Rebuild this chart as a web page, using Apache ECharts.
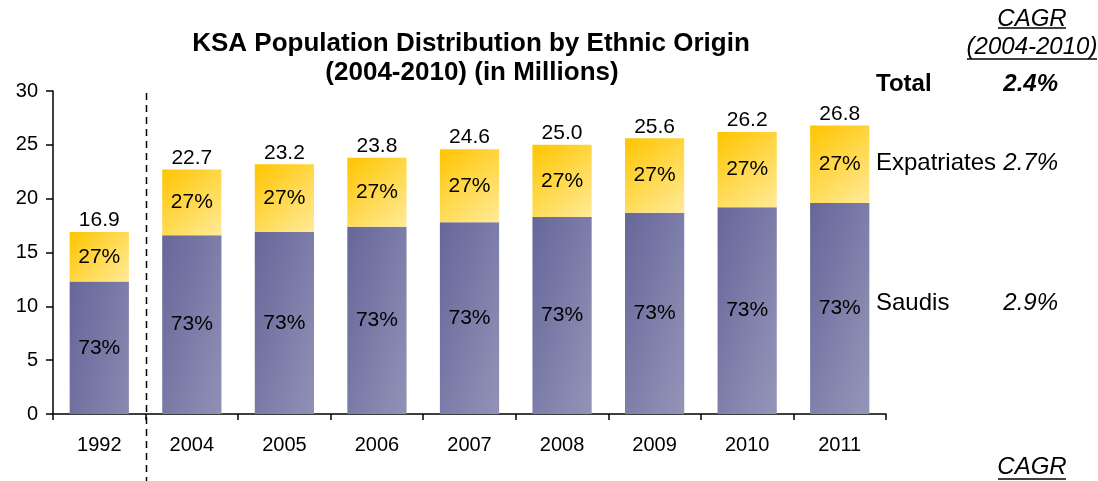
<!DOCTYPE html>
<html>
<head>
<meta charset="utf-8">
<script src="https://cdn.jsdelivr.net/npm/echarts@6/dist/echarts.min.js"></script>
<style>
  html, body { margin: 0; padding: 0; background: #fff; }
  #chart { width: 1098px; height: 481px; }
</style>
</head>
<body>
<div id="chart"></div>
<script>
// Population of KSA by origin, millions
const years = ['1992', '2004', '2005', '2006', '2007', '2008', '2009', '2010', '2011'];
const totals = [16.9, 22.7, 23.2, 23.8, 24.6, 25.0, 25.6, 26.2, 26.8];
const saudis = [12.3, 16.6, 16.9, 17.4, 17.8, 18.3, 18.7, 19.2, 19.6];
const expatriates = [4.6, 6.1, 6.3, 6.4, 6.8, 6.7, 6.9, 7.0, 7.2];
const saudiShare = ['73%', '73%', '73%', '73%', '73%', '73%', '73%', '73%', '73%'];
const expatShare = ['27%', '27%', '27%', '27%', '27%', '27%', '27%', '27%', '27%'];
const yTicks = [0, 5, 10, 15, 20, 25, 30];

// CAGR (2004-2010) side table
const cagrRows = ['Total', 'Expatriates', 'Saudis'];
const cagrValues = ['2.4%', '2.7%', '2.9%'];

const FONT = 'Liberation Sans, Arial, sans-serif';
const AXIS_FS = 20;
const BAR_FS = 21;
const SIDE_FS = 24;

const chart = echarts.init(document.getElementById('chart'), null, { renderer: 'canvas' });

// tall purple bars: gradient runs mostly left-to-right with a slight downward slant
const purple = new echarts.graphic.LinearGradient(0, 0, 1.8, 0.16, [
  { offset: 0, color: '#66669a' },
  { offset: 1, color: '#9393b8' }
]);
const yellow = new echarts.graphic.LinearGradient(0, 0, 1, 1, [
  { offset: 0, color: '#ffc500' },
  { offset: 1, color: '#ffeb99' }
]);

const barLabel = {
  show: true,
  position: 'inside',
  color: '#000',
  fontFamily: FONT,
  fontSize: BAR_FS
};

const option = {
  animation: false,
  backgroundColor: '#ffffff',
  grid: { left: 53, right: 212, top: 91, bottom: 67, containLabel: false },
  xAxis: {
    type: 'category',
    data: years,
    axisLine: { lineStyle: { color: '#000', width: 1.5 } },
    axisTick: { show: true, length: 6, lineStyle: { color: '#000', width: 1.5 } },
    axisLabel: { color: '#000', fontFamily: FONT, fontSize: AXIS_FS, margin: 21 }
  },
  yAxis: {
    type: 'value',
    min: yTicks[0],
    max: yTicks[yTicks.length - 1],
    interval: 5,
    splitLine: { show: false },
    axisLine: { show: true, lineStyle: { color: '#000', width: 1.5 } },
    axisTick: { show: true, length: 7, lineStyle: { color: '#000', width: 1.5 } },
    axisLabel: { color: '#000', fontFamily: FONT, fontSize: AXIS_FS, margin: 15 }
  },
  series: [
    {
      name: 'Saudis',
      type: 'bar',
      stack: 'pop',
      barWidth: '64%',
      data: saudis,
      itemStyle: { color: purple },
      label: Object.assign({ formatter: p => saudiShare[p.dataIndex] }, barLabel)
    },
    {
      name: 'Expatriates',
      type: 'bar',
      stack: 'pop',
      barWidth: '64%',
      data: expatriates,
      itemStyle: { color: yellow },
      label: Object.assign({ formatter: p => expatShare[p.dataIndex] }, barLabel)
    },
    {
      // total figure above each stack
      name: 'Total',
      type: 'bar',
      stack: 'pop',
      barWidth: '64%',
      data: years.map(() => 0),
      itemStyle: { color: 'transparent' },
      label: {
        show: true,
        position: 'top',
        distance: 1,
        color: '#000',
        fontFamily: FONT,
        fontSize: BAR_FS,
        formatter: p => totals[p.dataIndex].toFixed(1)
      }
    }
  ]
};

chart.setOption(option);

// dashed separator between 1992 and the 2004-2011 period
const x0 = chart.convertToPixel({ xAxisIndex: 0 }, years[0]);
const x1 = chart.convertToPixel({ xAxisIndex: 0 }, years[1]);
const sepX = Math.round((x0 + x1) / 2) + 0.5;
const yTop = chart.convertToPixel({ yAxisIndex: 0 }, yTicks[yTicks.length - 1]);

const italic = { fontFamily: FONT, fontSize: SIDE_FS, fontStyle: 'italic', fill: '#000' };
const plain = { fontFamily: FONT, fontSize: SIDE_FS, fill: '#000' };

function text(x, y, str, align, base, extra) {
  return {
    type: 'text', x: x, y: y,
    style: Object.assign({ text: str, textAlign: align, textVerticalAlign: 'middle' }, base, extra || {})
  };
}
function underline(xa, xb, y) {
  return { type: 'line', shape: { x1: xa, y1: y, x2: xb, y2: y }, style: { stroke: '#000', lineWidth: 1.3 } };
}

const rowY = [84, 163, 303];
const sideItems = [];
cagrRows.forEach((name, i) => {
  const bold = i === 0 ? { fontWeight: 'bold' } : {};
  sideItems.push(text(876, rowY[i], name, 'left', plain, bold));
  sideItems.push(text(1058, rowY[i], cagrValues[i], 'right', italic, bold));
});

const titleStyle = { fontFamily: FONT, fontSize: 26, fontWeight: 'bold', fill: '#000' };

chart.setOption({
  graphic: [
    text(471, 44, 'KSA Population Distribution by Ethnic Origin', 'center', titleStyle),
    text(472, 73, '(2004-2010) (in Millions)', 'center', titleStyle),
    {
      type: 'line',
      shape: { x1: sepX, y1: yTop + 2, x2: sepX, y2: 481 },
      style: { stroke: '#000', lineWidth: 1.5, lineDash: [7, 5] }
    },
    text(1032, 19, 'CAGR', 'center', italic),
    underline(998, 1066, 28),
    text(1032, 47, '(2004-2010)', 'center', italic),
    underline(967, 1097, 59),
    text(1032, 467, 'CAGR', 'center', italic),
    underline(998, 1066, 479)
  ].concat(sideItems)
});
</script>
</body>
</html>
